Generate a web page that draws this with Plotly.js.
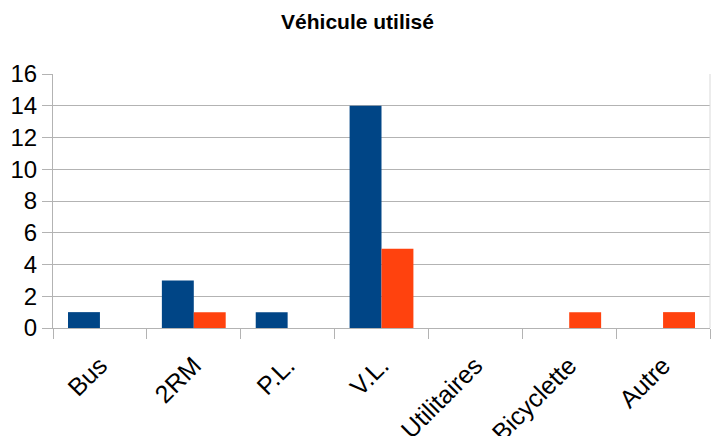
<!DOCTYPE html>
<html><head><meta charset="utf-8">
<script src="https://cdn.plot.ly/plotly-3.0.1.min.js"></script>
<style>body{margin:0;background:#fff}#chart{width:715px;height:436px}</style>
</head><body><div id="chart"></div>
<script>
const categories = ["Bus", "2RM", "P.L.", "V.L.", "Utilitaires", "Bicyclette", "Autre"];
const series1 = [1, 3, 1, 14, 0, 0, 0];
const series2 = [0, 1, 0, 5, 0, 1, 1];
const yTicks = [0, 2, 4, 6, 8, 10, 12, 14, 16];

const data = [
  {type: "bar", x: categories, y: series1, marker: {color: "#004586"}, name: "Série 1", hoverinfo: "x+y"},
  {type: "bar", x: categories, y: series2, marker: {color: "#ff420e"}, name: "Série 2", hoverinfo: "x+y"}
];
const layout = {
  width: 715, height: 436,
  margin: {l: 52.5, r: 5, t: 74, b: 108},
  paper_bgcolor: "#fff", plot_bgcolor: "#fff",
  showlegend: false,
  barmode: "group", bargap: 0.32, bargroupgap: 0,
  font: {family: "Liberation Sans, Arial, sans-serif", color: "#000"},
  title: {text: "<b>Véhicule utilisé</b>", x: 0.5, xanchor: "center", y: 0.95, yanchor: "middle", font: {size: 21, color: "#000"}},
  xaxis: {
    type: "category", tickson: "boundaries", ticks: "outside", ticklen: 10, tickcolor: "#b3b3b3", tickwidth: 1,
    showline: true, linecolor: "#b3b3b3", linewidth: 1, showgrid: false, zeroline: false,
    tickangle: -45, tickfont: {size: 25, color: "#000"}, ticklabelstandoff: 12, fixedrange: true
  },
  yaxis: {
    range: [0, 16], tickvals: yTicks, ticks: "outside", ticklen: 10, tickcolor: "#b3b3b3",
    showline: true, linecolor: "#b3b3b3", linewidth: 1, showgrid: true, gridcolor: "#b3b3b3",
    zeroline: false, tickfont: {size: 24, color: "#000"}, fixedrange: true
  },
  shapes: [{type: "line", xref: "paper", yref: "paper", x0: 1, x1: 1, y0: 0, y1: 1, line: {color: "#d9d9d9", width: 1}}]
};
Plotly.newPlot("chart", data, layout, {staticPlot: true, displayModeBar: false});
</script></body></html>
